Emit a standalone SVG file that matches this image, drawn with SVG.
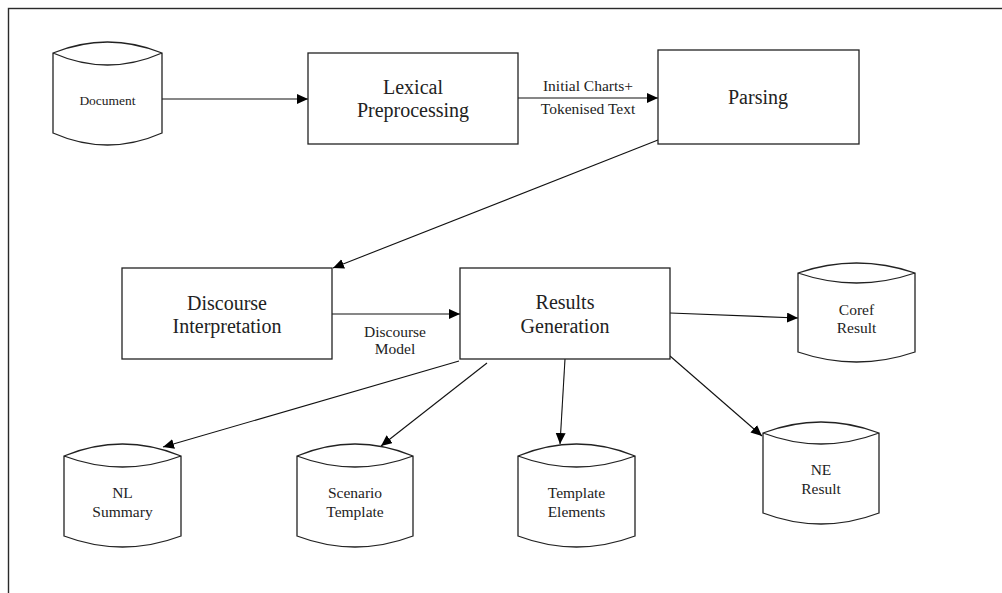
<svg xmlns="http://www.w3.org/2000/svg" width="1002" height="593" viewBox="0 0 1002 593">
<style>
.frame{fill:none;stroke:#2a2a2a;stroke-width:1.4}
.box{fill:#fff;stroke:#222;stroke-width:1.3}
.cyl{fill:#fff;stroke:#222;stroke-width:1.3}
.edge{fill:none;stroke:#111;stroke-width:1.1;marker-end:url(#arr)}
text{font-family:"Liberation Serif","Times New Roman",serif;fill:#222;text-anchor:middle}
.big{font-size:20px}
.mid{font-size:15.5px}
.sm{font-size:13.5px}
</style>
<defs>
<marker id="arr" markerUnits="userSpaceOnUse" markerWidth="12" markerHeight="11" refX="11" refY="5" orient="auto">
<path d="M0,0 L11,5 L0,10 z" fill="#000"/>
</marker>
</defs>
<rect width="1002" height="593" fill="#fff"/>
<rect class="frame" x="8.5" y="8.5" width="1010" height="600"/>

<g id="connectors">
<line class="edge" x1="162" y1="99" x2="308" y2="99"/>
<line class="edge" x1="518" y1="98" x2="658" y2="98"/>
<line class="edge" x1="658" y1="140" x2="333" y2="268"/>
<line class="edge" x1="332" y1="314" x2="460" y2="314"/>
<line class="edge" x1="670" y1="313" x2="798" y2="318"/>
<line class="edge" x1="670" y1="356" x2="762" y2="436"/>
<line class="edge" x1="565" y1="359" x2="560" y2="444"/>
<line class="edge" x1="487" y1="363" x2="381" y2="446"/>
<line class="edge" x1="459" y1="361" x2="163" y2="447"/>
<text class="mid" x="588" y="91">Initial Charts+</text>
<text class="mid" x="588" y="114">Tokenised Text</text>
<text class="mid" x="395" y="337">Discourse</text>
<text class="mid" x="395" y="354">Model</text>
</g>

<g id="document">
<path class="cyl" d="M53,53 Q107.5,31 162,53 L162,133 Q107.5,157 53,133 Z M53,53 Q107.5,77 162,53"/>
<text class="sm" x="107.5" y="105">Document</text>
</g>

<g id="lexical">
<rect class="box" x="308" y="53" width="210" height="91"/>
<text class="big" x="413" y="94">Lexical</text>
<text class="big" x="413" y="117">Preprocessing</text>
</g>

<g id="parsing">
<rect class="box" x="658" y="50" width="201" height="94"/>
<text class="big" x="758" y="104">Parsing</text>
</g>

<g id="discourse">
<rect class="box" x="122" y="268" width="210" height="91"/>
<text class="big" x="227" y="310">Discourse</text>
<text class="big" x="227" y="333">Interpretation</text>
</g>

<g id="results">
<rect class="box" x="460" y="268" width="210" height="91"/>
<text class="big" x="565" y="309">Results</text>
<text class="big" x="565" y="333">Generation</text>
</g>

<g id="coref">
<path class="cyl" d="M798,273 Q856.5,253 915,273 L915,352 Q856.5,372 798,352 Z M798,273 Q856.5,293 915,273"/>
<text class="mid" x="856.5" y="315">Coref</text>
<text class="mid" x="856.5" y="333">Result</text>
</g>

<g id="ne">
<path class="cyl" d="M763,433 Q821,411 879,433 L879,513 Q821,535 763,513 Z M763,433 Q821,455 879,433"/>
<text class="mid" x="821" y="475">NE</text>
<text class="mid" x="821" y="494">Result</text>
</g>

<g id="nl">
<path class="cyl" d="M64,456 Q122.5,432 181,456 L181,536 Q122.5,558 64,536 Z M64,456 Q122.5,478 181,456"/>
<text class="mid" x="122.5" y="498">NL</text>
<text class="mid" x="122.5" y="517">Summary</text>
</g>

<g id="scenario">
<path class="cyl" d="M297,456 Q355,432 413,456 L413,536 Q355,558 297,536 Z M297,456 Q355,478 413,456"/>
<text class="mid" x="355" y="498">Scenario</text>
<text class="mid" x="355" y="517">Template</text>
</g>

<g id="template">
<path class="cyl" d="M518,456 Q576.5,432 635,456 L635,536 Q576.5,558 518,536 Z M518,456 Q576.5,478 635,456"/>
<text class="mid" x="576.5" y="498">Template</text>
<text class="mid" x="576.5" y="517">Elements</text>
</g>
</svg>
